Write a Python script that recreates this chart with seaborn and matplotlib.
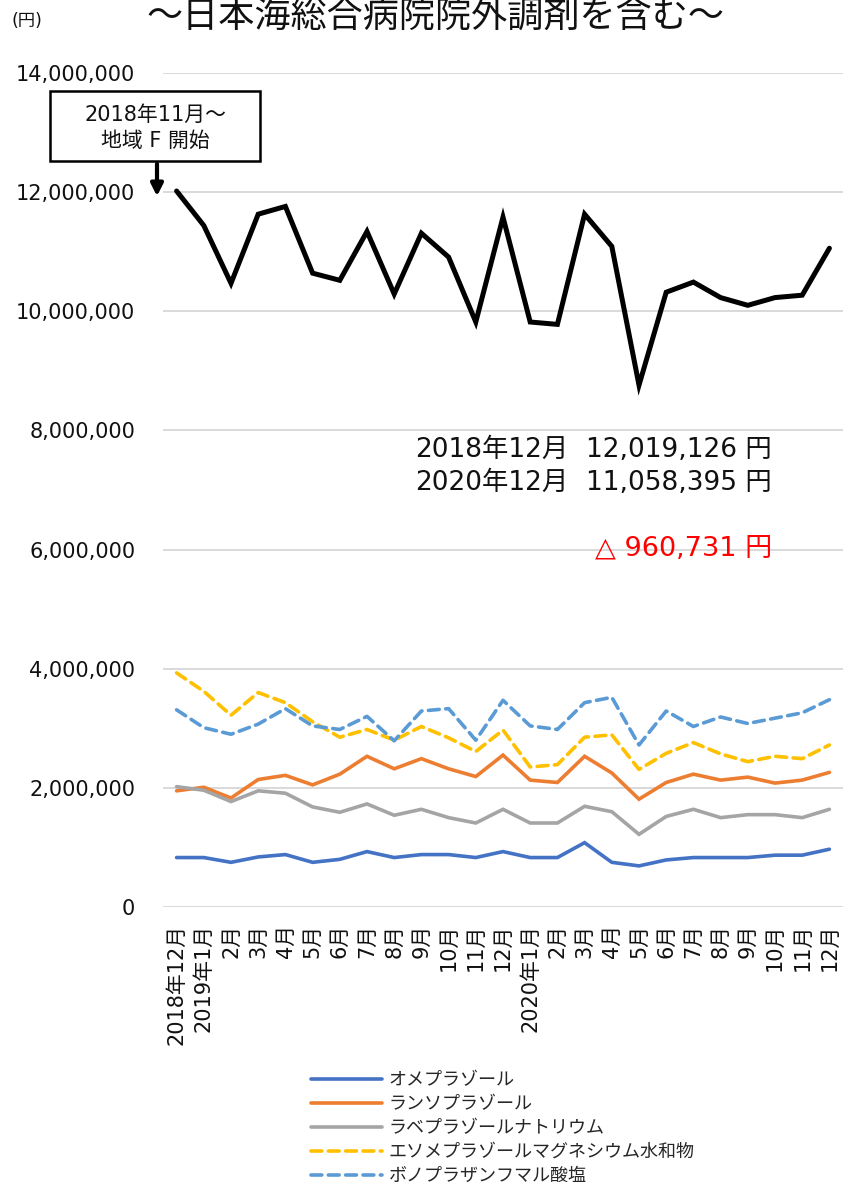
import matplotlib
matplotlib.use("Agg")
import matplotlib.pyplot as plt
import seaborn as sns
import pandas as pd
import numpy as np
from matplotlib.patches import Rectangle, FancyArrowPatch
from matplotlib.ticker import FuncFormatter

# ---------------- data ----------------
months = ["2018年12月", "2019年1月", "2月", "3月", "4月", "5月", "6月", "7月", "8月",
          "9月", "10月", "11月", "12月", "2020年1月", "2月", "3月", "4月", "5月", "6月",
          "7月", "8月", "9月", "10月", "11月", "12月"]

total = [12019126, 11440000, 10470000, 11630000, 11760000, 10640000, 10520000, 11340000,
         10290000, 11310000, 10910000, 9820000, 11580000, 9820000, 9780000, 11630000,
         11090000, 8760000, 10320000, 10490000, 10230000, 10100000, 10230000, 10270000,
         11058395]

omeprazole = [830000, 830000, 750000, 840000, 880000, 750000, 800000, 930000, 830000,
              880000, 880000, 830000, 930000, 830000, 830000, 1080000, 750000, 690000,
              790000, 830000, 830000, 830000, 870000, 870000, 970000]
lansoprazole = [1950000, 2010000, 1830000, 2140000, 2210000, 2050000, 2230000, 2530000,
                2320000, 2490000, 2320000, 2190000, 2550000, 2130000, 2090000, 2530000,
                2250000, 1810000, 2090000, 2230000, 2130000, 2180000, 2080000, 2130000,
                2260000]
rabeprazole = [2020000, 1960000, 1770000, 1950000, 1910000, 1680000, 1590000, 1730000,
               1540000, 1640000, 1500000, 1410000, 1640000, 1410000, 1410000, 1690000,
               1600000, 1220000, 1520000, 1640000, 1500000, 1550000, 1550000, 1500000,
               1640000]
esomeprazole = [3930000, 3620000, 3220000, 3600000, 3430000, 3110000, 2850000, 2980000,
                2800000, 3030000, 2840000, 2610000, 2970000, 2350000, 2390000, 2850000,
                2890000, 2310000, 2580000, 2760000, 2570000, 2440000, 2530000, 2490000,
                2720000]
vonoprazan = [3310000, 3010000, 2900000, 3070000, 3330000, 3040000, 2980000, 3200000,
              2790000, 3290000, 3330000, 2800000, 3470000, 3040000, 2980000, 3430000,
              3520000, 2720000, 3290000, 3030000, 3190000, 3080000, 3170000, 3260000,
              3480000]

series_names = ["オメプラゾール", "ランソプラゾール", "ラベプラゾールナトリウム",
                "エソメプラゾールマグネシウム水和物", "ボノプラザンフマル酸塩"]
series_values = [omeprazole, lansoprazole, rabeprazole, esomeprazole, vonoprazan]
series_colors = ["#4472C4", "#ED7D31", "#A5A5A5", "#FFC000", "#5B9BD5"]
series_dashes = ["", "", "", (3, 1.8), (3, 1.8)]

title_text = "～日本海総合病院院外調剤を含む～"
unit_text = "(円)"
box_text = "2018年11月～\n地域 F 開始"
summary_dates = ["2018年12月", "2020年12月"]
summary_amounts = ["12,019,126 円", "11,058,395 円"]
diff_text = "△ 960,731 円"

# ---------------- style ----------------
sns.set_theme(style="white")
plt.rcParams["font.family"] = ["DejaVu Sans", "Noto Sans CJK JP"]

W, H = 850, 1186
fig = plt.figure(figsize=(W / 100, H / 100), dpi=100)

def fx(px):
    return px / W

def fy(py):
    return 1 - py / H

ax_l, ax_r, ax_t, ax_b = 163, 843, 73, 907
ax = fig.add_axes([fx(ax_l), fy(ax_b), fx(ax_r) - fx(ax_l), fy(ax_t) - fy(ax_b)])

idx = np.arange(len(months))
rows = []
for name, vals in zip(series_names, series_values):
    for i, v in zip(idx, vals):
        rows.append({"idx": i, "value": v, "drug": name})
df = pd.DataFrame(rows)

sns.lineplot(data=df, x="idx", y="value", hue="drug", style="drug",
             hue_order=series_names, style_order=series_names,
             palette=dict(zip(series_names, series_colors)),
             dashes=dict(zip(series_names, series_dashes)),
             linewidth=2.6, ax=ax, legend=True)

df_total = pd.DataFrame({"idx": idx, "value": total})
sns.lineplot(data=df_total, x="idx", y="value", color="black", linewidth=3.6,
             ax=ax, legend=False)

for ln in ax.get_lines():
    ln.set_dash_capstyle("round")
    ln.set_solid_capstyle("round")
    ln.set_solid_joinstyle("miter")

ax.set_xlim(-0.5, len(months) - 0.5)
ax.set_ylim(0, 14000000)
ax.set_yticks(np.arange(0, 14000001, 2000000))
ax.yaxis.set_major_formatter(FuncFormatter(lambda v, p: f"{int(v):,}"))
ax.set_xticks(idx)
ax.set_xticklabels(months, rotation=90, fontsize=15)
ax.tick_params(axis="y", labelsize=15, pad=20, length=0, colors="#111111")
ax.tick_params(axis="x", pad=12, length=0, colors="#111111")
ax.grid(axis="y", color="#D9D9D9", linewidth=1.4)
ax.grid(axis="x", visible=False)
ax.set_axisbelow(True)
for s in ax.spines.values():
    s.set_visible(False)
ax.set_xlabel("")
ax.set_ylabel("")

# legend
handles, labels = ax.get_legend_handles_labels()
ax.get_legend().remove()
leg = ax.legend(handles, labels, loc="upper center", bbox_to_anchor=(0.5, -0.186),
                frameon=False, fontsize=13, handlelength=3.9, labelspacing=0.33,
                handletextpad=0.4, borderpad=0)
for lh in leg.get_lines():
    lh.set_linewidth(2.6)
    lh.set_dash_capstyle("round")
    lh.set_solid_capstyle("round")

# texts
fig.text(fx(435), fy(17), title_text, fontsize=26, ha="center", va="center", color="#111111")
fig.text(fx(27), fy(21), unit_text, fontsize=12.5, ha="center", va="center", color="#111111")

fig.add_artist(Rectangle((fx(50), fy(161)), fx(260) - fx(50), fy(91) - fy(161),
                         transform=fig.transFigure, facecolor="white",
                         edgecolor="black", linewidth=1.8, zorder=5))
fig.text(fx(155), fy(128), box_text, fontsize=15, ha="center", va="center",
         linespacing=1.35, color="#111111", zorder=6)
fig.add_artist(FancyArrowPatch((fx(157), fy(161)), (fx(157), fy(199)),
                               transform=fig.transFigure, arrowstyle="-|>",
                               mutation_scale=18, linewidth=3.0, color="black",
                               zorder=5))

for date_s, amt_s, py in zip(summary_dates, summary_amounts, [450, 483]):
    fig.text(fx(415), fy(py), date_s, fontsize=19, ha="left", va="center",
             color="#111111")
    fig.text(fx(772), fy(py), amt_s, fontsize=19, ha="right", va="center",
             color="#111111")
fig.text(fx(772), fy(548), diff_text, fontsize=19.5, ha="right", va="center",
         color="#FF0000")

fig.savefig("out.png", dpi=100)
